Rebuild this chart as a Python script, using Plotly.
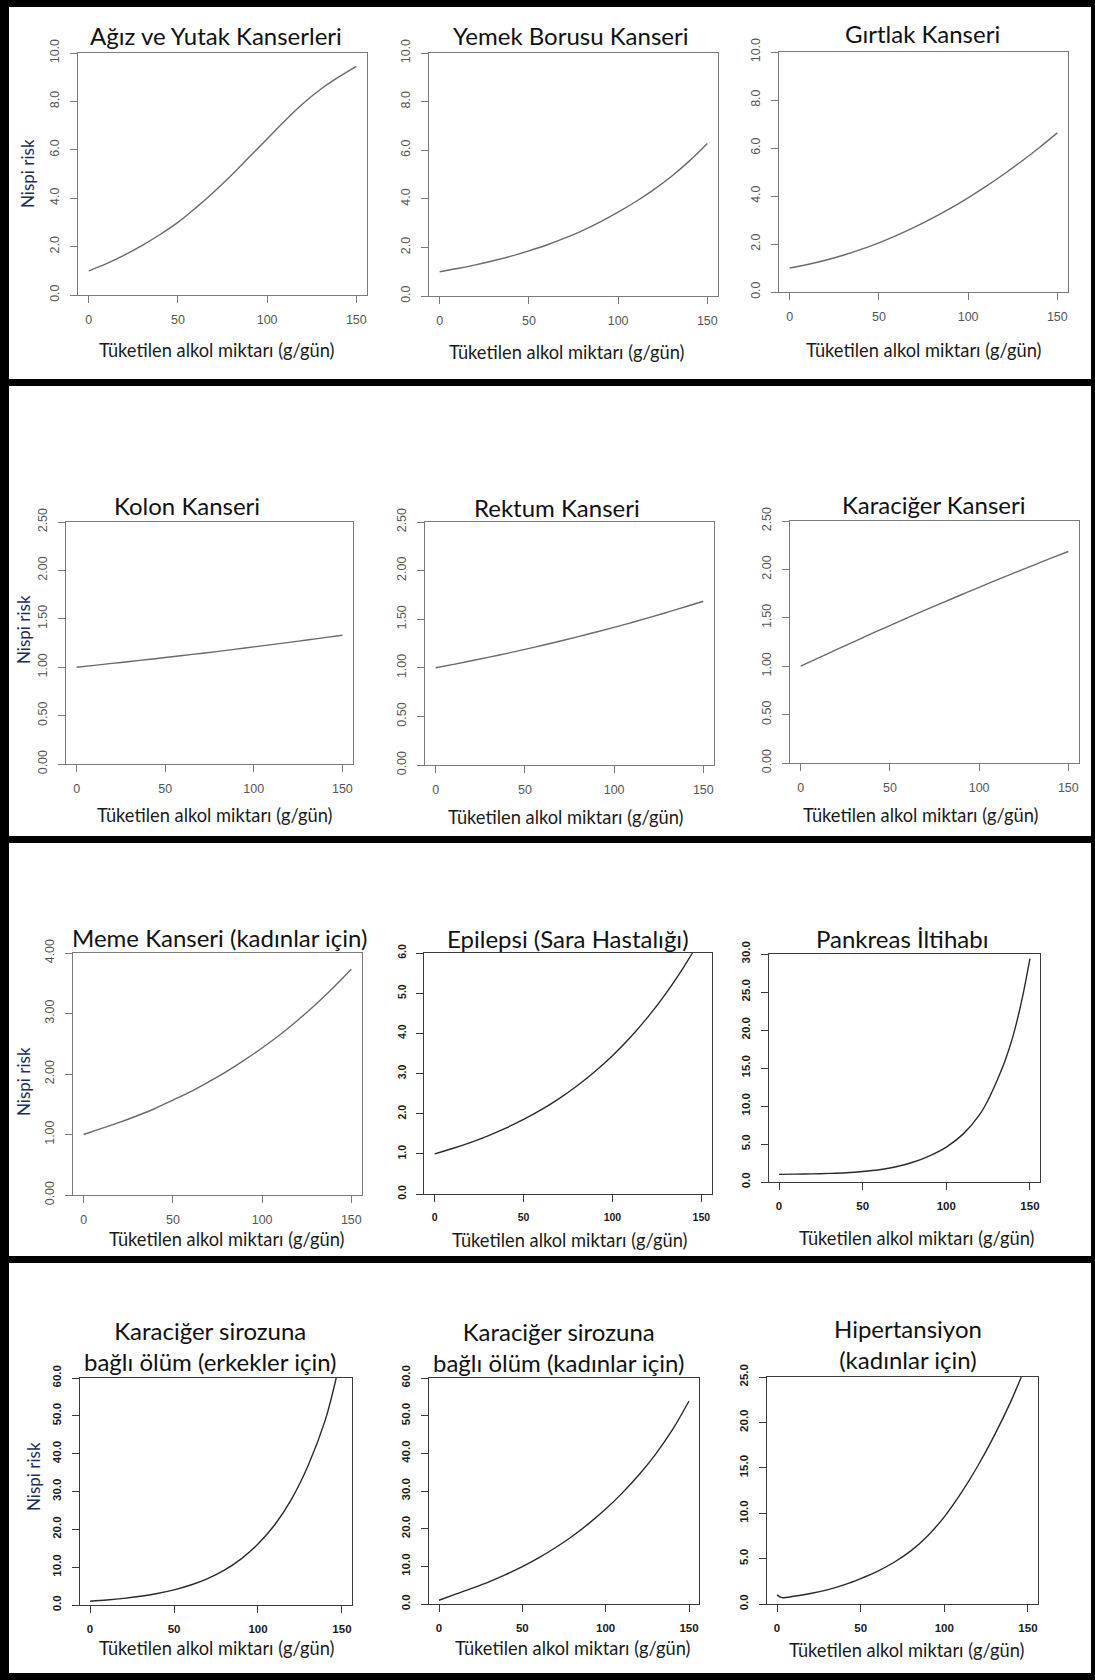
import plotly.graph_objects as go

W, H = 1095, 1680

# ---------------- data ----------------
titles = [
    "Ağız ve Yutak Kanserleri", "Yemek Borusu Kanseri", "Gırtlak Kanseri",
    "Kolon Kanseri", "Rektum Kanseri", "Karaciğer Kanseri",
    "Meme Kanseri (kadınlar için)", "Epilepsi (Sara Hastalığı)", "Pankreas İltihabı",
    "Karaciğer sirozuna<br>bağlı ölüm (erkekler için)",
    "Karaciğer sirozuna<br>bağlı ölüm (kadınlar için)",
    "Hipertansiyon<br>(kadınlar için)",
]
x_title = "Tüketilen alkol miktarı (g/gün)"
y_title = "Nispi risk"
x_ticks = [0, 50, 100, 150]

x_std = [0, 10, 20, 30, 40, 50, 60, 70, 80, 90, 100, 110, 120, 130, 140, 150]

agiz = [1.0, 1.3, 1.65, 2.05, 2.5, 3.0, 3.6, 4.25, 4.95, 5.7, 6.45, 7.2, 7.9, 8.5, 9.0, 9.45]
yemek = [1.0, 1.13, 1.28, 1.45, 1.64, 1.86, 2.1, 2.38, 2.69, 3.05, 3.45, 3.89, 4.38, 4.93, 5.56, 6.28]
girtlak = [1.0, 1.144, 1.321, 1.531, 1.774, 2.05, 2.359, 2.701, 3.077, 3.485, 3.926, 4.4, 4.908, 5.449, 6.022, 6.63]
kolon = [1.0, 1.019, 1.039, 1.059, 1.079, 1.1, 1.121, 1.142, 1.164, 1.187, 1.21, 1.233, 1.257, 1.281, 1.305, 1.33]
rektum = [1.0, 1.035, 1.072, 1.110, 1.149, 1.19, 1.232, 1.276, 1.321, 1.368, 1.416, 1.466, 1.518, 1.572, 1.628, 1.685]
karaciger = [1.0, 1.086, 1.171, 1.255, 1.338, 1.42, 1.501, 1.581, 1.66, 1.738, 1.815, 1.891, 1.966, 2.04, 2.113, 2.185]
meme = [1.0, 1.1, 1.2, 1.31, 1.43, 1.57, 1.71, 1.87, 2.04, 2.23, 2.43, 2.65, 2.89, 3.15, 3.43, 3.73]

x_epilepsi = [0, 10, 20, 30, 40, 50, 60, 70, 80, 90, 100, 110, 120, 130, 140, 145]
epilepsi = [1.0, 1.132, 1.281, 1.449, 1.64, 1.856, 2.1, 2.376, 2.689, 3.043, 3.443, 3.896, 4.409, 4.989, 5.645, 6.0]

x_pankreas = [0, 10, 20, 30, 40, 50, 60, 70, 80, 90, 100, 110, 120, 125, 130, 135, 140, 145, 150]
pankreas = [1.0, 1.03, 1.07, 1.13, 1.22, 1.38, 1.62, 2.0, 2.6, 3.45, 4.6, 6.3, 8.9, 10.8, 13.2, 15.9, 19.3, 23.8, 29.4]

x_siroz_e = [0, 10, 20, 30, 40, 50, 60, 70, 80, 90, 100, 110, 120, 130, 140, 146.6]
siroz_e = [1.0, 1.32, 1.74, 2.3, 3.04, 4.0, 5.28, 6.98, 9.2, 12.2, 16.1, 21.2, 28.0, 37.0, 48.8, 60.0]

siroz_k = [1.0, 2.6, 4.2, 5.9, 7.8, 9.9, 12.3, 15.0, 18.0, 21.4, 25.2, 29.5, 34.3, 39.8, 46.2, 53.9]

x_hiper = [0, 3, 10, 20, 30, 40, 50, 60, 70, 80, 90, 100, 110, 120, 130, 140, 146]
hiper = [1.0, 0.7, 0.85, 1.15, 1.55, 2.1, 2.8, 3.6, 4.6, 5.85, 7.5, 9.6, 12.2, 15.2, 18.6, 22.4, 25.0]

xs = [x_std, x_std, x_std, x_std, x_std, x_std, x_std, x_epilepsi, x_pankreas, x_siroz_e, x_std, x_hiper]
ys = [agiz, yemek, girtlak, kolon, rektum, karaciger, meme, epilepsi, pankreas, siroz_e, siroz_k, hiper]

y_max = [10, 10, 10, 2.5, 2.5, 2.5, 4, 6, 30, 60, 60, 25]
y_step = [2, 2, 2, 0.5, 0.5, 0.5, 1, 1, 5, 10, 10, 5]
y_fmt = [".1f", ".1f", ".1f", ".2f", ".2f", ".2f", ".2f", ".1f", ".1f", ".1f", ".1f", ".1f"]

# ---------------- layout (pixels) ----------------
boxes = [
    (78, 367, 53, 295), (429, 718, 53, 296), (779, 1068, 52, 292),
    (66, 353, 522, 764), (425, 714, 522, 765), (790, 1079, 521, 763),
    (73, 362, 953, 1195), (424, 712, 953, 1194), (769, 1040, 954, 1182),
    (80, 352, 1378, 1605), (429, 699, 1378, 1604), (767, 1038, 1377, 1604),
]
tick_size = [12.5, 12.5, 12.5, 12.5, 12.5, 12.5, 12.5, 10.5, 11.5, 11.5, 11.5, 11.5]
title_pos = [
    (216, 35), (570, 35), (922, 33),
    (187, 505), (557, 507), (934, 504),
    (219, 937), (568, 938), (902, 938),
    (210, 1346), (558, 1347), (908, 1344),
]
xt_pos = [
    (217, 350), (567, 352), (924, 350),
    (215, 815), (566, 817), (921, 815),
    (227, 1239), (570, 1240), (917, 1238),
    (217, 1648), (573, 1648), (907, 1650),
]
yt_pos = [(28, 174), (23, 630), (23, 1082), (33, 1477)]


def px(x):
    return x / W


def py(y):
    return 1 - y / H


fig = go.Figure()
TITLE_FONT = "Lato, 'Open Sans', sans-serif"
TICK_FONT = "'Liberation Sans', Arial, sans-serif"

for i in range(12):
    n = i + 1
    dark = i >= 7
    lc = "#2a2a2a" if dark else "#6a6a6a"
    fig.add_trace(go.Scatter(
        x=xs[i], y=ys[i], mode="lines", line=dict(color=lc, width=1.4, shape="spline"),
        xaxis=f"x{n}", yaxis=f"y{n}", showlegend=False, hoverinfo="skip"))
    x0, x1, y0, y1 = boxes[i]
    axcol = "#3a3a3a" if dark else "#7a7a7a"
    tcol = "#1a1a1a" if dark else "#555555"
    tw = "bold" if dark else "normal"
    tf = dict(family=TICK_FONT, size=tick_size[i], color=tcol, weight=tw)
    fig.layout[f"xaxis{n}"] = dict(
        domain=[px(x0), px(x1)], anchor=f"y{n}", range=[-6, 156], automargin=False,
        tickvals=x_ticks, ticks="outside", ticklen=7, tickcolor=axcol, tickwidth=1.2,
        showline=True, mirror=True, linecolor=axcol, linewidth=1.3,
        showgrid=False, zeroline=False, ticklabelstandoff=6, tickfont=tf)
    fig.layout[f"yaxis{n}"] = dict(
        domain=[py(y1), py(y0)], anchor=f"x{n}", range=[0, y_max[i]], automargin=False,
        dtick=y_step[i], tick0=0, tickformat=y_fmt[i], tickangle=-90,
        ticks="outside", ticklen=7, tickcolor=axcol, tickwidth=1.2,
        showline=True, mirror=True, linecolor=axcol, linewidth=1.3,
        showgrid=False, zeroline=False, ticklabelstandoff=6, tickfont=tf)

ann = []
for i in range(12):
    tx, ty = title_pos[i]
    ann.append(dict(x=px(tx), y=py(ty), xref="paper", yref="paper", text=titles[i],
                    showarrow=False, xanchor="center", yanchor="middle",
                    font=dict(family=TITLE_FONT, size=24, color="#111111")))
    ax_, ay_ = xt_pos[i]
    ann.append(dict(x=px(ax_), y=py(ay_), xref="paper", yref="paper", text=x_title,
                    showarrow=False, xanchor="center", yanchor="middle",
                    font=dict(family=TITLE_FONT, size=18.3, color="#1a1a1a")))
for (ax_, ay_) in yt_pos:
    ann.append(dict(x=px(ax_), y=py(ay_), xref="paper", yref="paper", text=y_title,
                    showarrow=False, xanchor="center", yanchor="middle", textangle=-90,
                    font=dict(family=TITLE_FONT, size=17, color="#1f2d5a")))

# black frame and row separators (pixel bands)
bands = [
    (0, W, 0, 7), (0, 9, 0, H), (W - 4, W, 0, H), (0, W, H - 7, H),
    (0, W, 379, 386), (0, W, 836, 843), (0, W, 1256, 1263),
]
shapes = [dict(type="rect", xref="paper", yref="paper", x0=px(a), x1=px(b),
               y0=py(d), y1=py(c), fillcolor="black", line=dict(width=0), layer="above")
          for (a, b, c, d) in bands]

fig.update_layout(width=W, height=H, margin=dict(l=0, r=0, t=0, b=0, pad=0),
                  autosize=False,
                  paper_bgcolor="white", plot_bgcolor="white",
                  annotations=ann, shapes=shapes, showlegend=False)

fig.write_html("out.html", config={"displayModeBar": False},
               post_script="document.body.style.margin='0';document.body.style.padding='0';document.body.style.overflow='hidden';")
